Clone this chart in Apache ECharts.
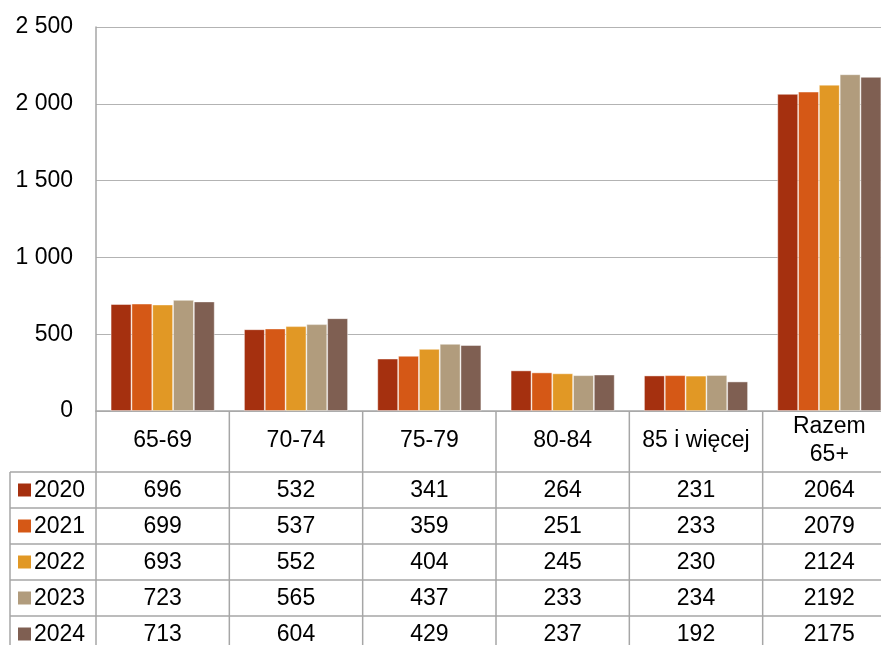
<!DOCTYPE html>
<html>
<head>
<meta charset="utf-8">
<script src="https://cdn.jsdelivr.net/npm/echarts@6/dist/echarts.min.js"></script>
<style>
	html, body { margin: 0; padding: 0; background: #fff; }
	#chart { width: 881px; height: 645px; }
</style>
</head>
<body>
<div id="chart"></div>
<script>
	// dane z wykresu
	const categories = ['65-69', '70-74', '75-79', '80-84', '85 i więcej', 'Razem\n65+']
	const years = ['2020', '2021', '2022', '2023', '2024']
	const v2020 = [696, 532, 341, 264, 231, 2064]
	const v2021 = [699, 537, 359, 251, 233, 2079]
	const v2022 = [693, 552, 404, 245, 230, 2124]
	const v2023 = [723, 565, 437, 233, 234, 2192]
	const v2024 = [713, 604, 429, 237, 192, 2175]
	const yTicks = [0, 500, 1000, 1500, 2000, 2500]
	const colors = ['#a5300f', '#d55816', '#e19825', '#b19c7d', '#7f5f52']

	const values = [v2020, v2021, v2022, v2023, v2024]
	const font = '"Liberation Sans", Arial, sans-serif'
	const fontSize = 23
	const lineColor = '#a6a6a6'

	const grid = { left: 96, top: 27, width: 800, height: 384, outerBoundsMode: 'none' }
	const headerH = 61
	const rowH = 36
	const tableLeft = 10

	const chart = echarts.init(document.getElementById('chart'))

	let option = {
		animation: false,
		grid: grid,
		xAxis: {
			type: 'category',
			data: categories,
			axisLine: { lineStyle: { color: lineColor, width: 1.5 } },
			axisTick: { show: false },
			axisLabel: {
				margin: 30,
				verticalAlign: 'middle',
				color: '#000',
				fontFamily: font,
				fontSize: fontSize,
				lineHeight: 28,
				interval: 0
			}
		},
		yAxis: {
			type: 'value',
			min: yTicks[0],
			max: yTicks[yTicks.length - 1],
			interval: 500,
			axisLine: { show: true, lineStyle: { color: lineColor, width: 1.5 } },
			axisTick: { show: false },
			splitLine: { lineStyle: { color: '#b3b3b3', width: 1 } },
			axisLabel: {
				margin: 23,
				color: '#000',
				fontFamily: font,
				fontSize: fontSize,
				padding: [4, 0, 0, 0],
				formatter: v => String(v).replace(/\B(?=(\d{3})+(?!\d))/g, ' ')
			}
		},
		series: years.map((y, i) => ({
			name: y,
			type: 'bar',
			data: values[i],
			barGap: 0,
			barCategoryGap: '22%',
			itemStyle: {
				color: colors[i],
				borderColor: 'rgba(255,255,255,0.55)',
				borderWidth: 0.8
			}
		}))
	}
	chart.setOption(option)

	// tabela danych pod wykresem
	const bottom = grid.top + grid.height
	const bandW = grid.width / categories.length
	const tableTop = bottom + headerH
	const tableBottom = tableTop + rowH * years.length
	const right = grid.left + grid.width
	let g = []
	const line = (x1, y1, x2, y2) => g.push({
		type: 'line',
		shape: { x1: x1, y1: y1, x2: x2, y2: y2 },
		style: { stroke: lineColor, lineWidth: 1.5 },
		silent: true
	})

	for (let r = 0; r <= years.length; r++) {
		line(tableLeft, tableTop + r * rowH, right, tableTop + r * rowH)
	}
	line(tableLeft, tableTop, tableLeft, tableBottom)
	line(grid.left, bottom, grid.left, tableBottom)
	categories.forEach((c, j) => {
		const cx = chart.convertToPixel({ xAxisIndex: 0 }, j)
		line(cx + bandW / 2, bottom, cx + bandW / 2, tableBottom)
		years.forEach((y, i) => {
			g.push({
				type: 'text',
				x: cx,
				y: tableTop + i * rowH + rowH / 2 + 1,
				style: {
					text: String(values[i][j]),
					font: fontSize + 'px ' + font,
					fill: '#000',
					align: 'center',
					verticalAlign: 'middle'
				},
				silent: true
			})
		})
	})
	years.forEach((y, i) => {
		const cy = tableTop + i * rowH + rowH / 2
		g.push({
			type: 'rect',
			shape: { x: 18, y: cy - 6.5, width: 13, height: 13 },
			style: { fill: colors[i] },
			silent: true
		})
		g.push({
			type: 'text',
			x: 34,
			y: cy + 1,
			style: {
				text: y,
				font: fontSize + 'px ' + font,
				fill: '#000',
				align: 'left',
				verticalAlign: 'middle'
			},
			silent: true
		})
	})

	chart.setOption({ graphic: g })
</script>
</body>
</html>
